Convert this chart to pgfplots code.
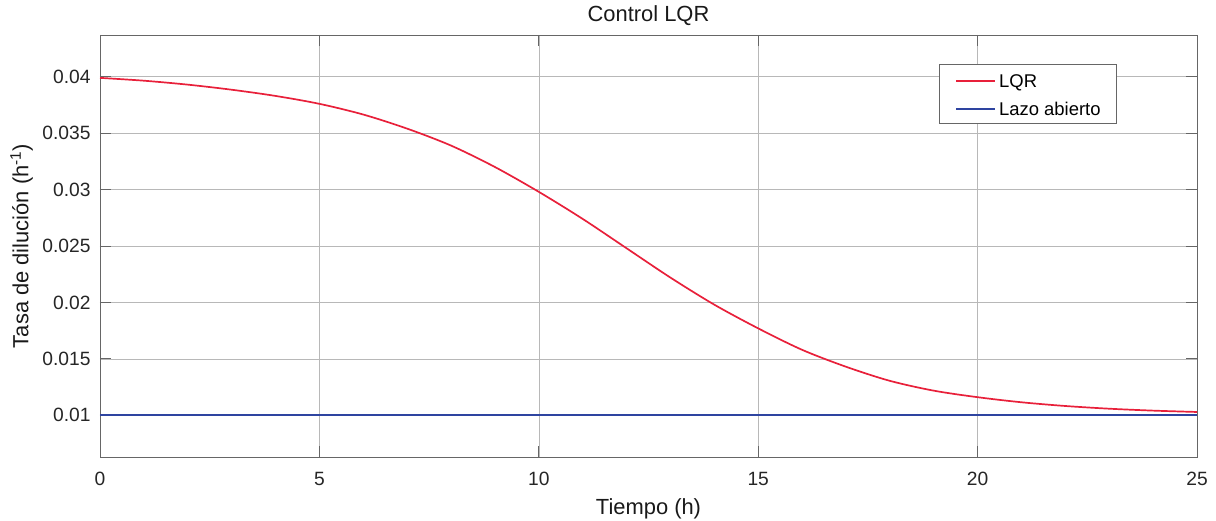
\documentclass[border=0pt]{standalone}
\usepackage{fontspec}
\setmainfont{Liberation Sans}
\usepackage{pgfplots}
\pgfplotsset{compat=1.18}
\definecolor{lqrRed}{HTML}{E8203A}
\definecolor{olBlue}{HTML}{2E44A0}

\begin{document}
\begin{tikzpicture}
\path[use as bounding box] (-100bp,-64bp) rectangle (1116bp,457bp);
\begin{axis}[at={(0,0)},anchor=south west,
    width=1097bp,height=422bp,scale only axis,
    xmin=0,xmax=25,ymin=0.0063,ymax=0.0437,
    xtick={0,5,10,15,20,25},
    ytick={0.01,0.015,0.02,0.025,0.03,0.035,0.04},
    yticklabels={0.01,0.015,0.02,0.025,0.03,0.035,0.04},
    scaled y ticks=false,
    /pgf/number format/assume math mode=true,
    tick align=inside,major tick length=11bp,
    tick style={draw=black!60,line width=0.8bp},
    axis line style={draw=black!60,line width=0.8bp},
    grid=major,major grid style={draw=black!28,line width=0.6bp},
    ticklabel style={font=\fontsize{19.3}{21}\selectfont,text=black!85},
    yticklabel style={inner sep=0pt,anchor=east,xshift=-9.3bp},
    xticklabel style={inner sep=0pt,anchor=north,yshift=-15.2bp},
    title={Control LQR},
    title style={at={(axis description cs:0.5,1)},anchor=base,yshift=8bp,
        font=\fontsize{22}{24}\selectfont,text=black!90},
    xlabel={Tiempo (h)},
    xlabel style={at={(axis description cs:0.5,0)},anchor=base,yshift=-57.5bp,
        font=\fontsize{22}{24}\selectfont,text=black!90},
    ylabel={Tasa de dilución (h\textsuperscript{-1})},
    ylabel style={at={(axis description cs:-0.0652,0.5)},anchor=base,rotate=0,
        font=\fontsize{22}{24}\selectfont,text=black!90},
    legend style={at={(0.9268,0.9306)},anchor=north east,
        draw=black!60,line width=0.8bp,fill=white,
        inner xsep=15.7bp,inner ysep=4.7bp,
        font=\fontsize{18.5}{20}\selectfont,
        nodes={inner sep=0pt,text height=18.3bp,text depth=3bp},
        row sep=6.7bp,column sep=3bp},
    legend cell align=left,
    legend image code/.code={\draw[#1] (0bp,-1bp) -- (39bp,-1bp);},
]
\addplot[lqrRed,line width=1.7bp,smooth] coordinates {
(0,0.0399) (1,0.03965) (2,0.0393) (3,0.03885) (4,0.0383) (5,0.0376)
(6,0.03665) (7,0.0354) (8,0.0339) (9,0.0320) (10,0.0298) (11,0.0274)
(12,0.0248) (13,0.0222) (14,0.0198) (15,0.0177) (16,0.0158) (17,0.0143)
(18,0.01305) (19,0.01218) (20,0.0116) (21,0.01115) (22,0.01082) (23,0.01058)
(24,0.01041) (25,0.01029)};
\addlegendentry{LQR}
\addplot[olBlue,line width=1.7bp] coordinates {(0,0.01) (25,0.01)};
\addlegendentry{Lazo abierto}
\end{axis}
\end{tikzpicture}
\end{document}
